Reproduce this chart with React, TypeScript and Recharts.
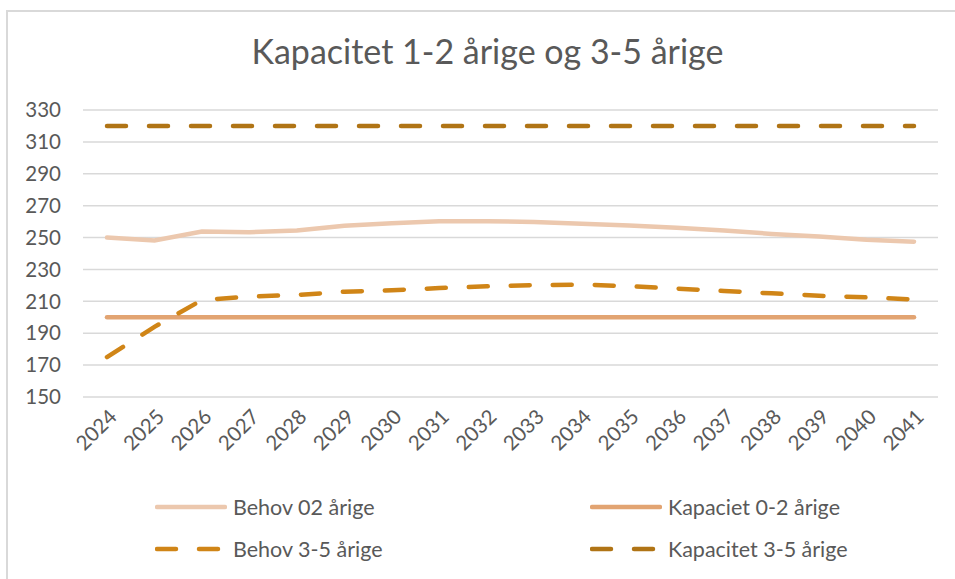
import React from "react";
import { CartesianGrid, Line, LineChart, XAxis, YAxis } from "recharts";

const years = [
  "2024", "2025", "2026", "2027", "2028", "2029", "2030", "2031", "2032",
  "2033", "2034", "2035", "2036", "2037", "2038", "2039", "2040", "2041",
];

const behov02 = [250, 248.2, 253.8, 253.4, 254.4, 257.4, 259, 260.3, 260.3, 259.7, 258.6, 257.6, 256.1, 254.4, 252.3, 250.7, 248.6, 247.4];
const kapaciet02 = [200, 200, 200, 200, 200, 200, 200, 200, 200, 200, 200, 200, 200, 200, 200, 200, 200, 200];
const behov35 = [175, 194, 210.8, 213, 214, 216, 217, 218.3, 219.4, 220.2, 220.5, 219.5, 218, 216.5, 215, 213.5, 212.5, 211.2];
const kapacitet35 = [320, 320, 320, 320, 320, 320, 320, 320, 320, 320, 320, 320, 320, 320, 320, 320, 320, 320];

const yTicks = [150, 170, 190, 210, 230, 250, 270, 290, 310, 330];

const series = [
  { key: "behov02", name: "Behov 02 årige", color: "#ECC8AE", dash: undefined as string | undefined },
  { key: "kapaciet02", name: "Kapaciet 0-2 årige", color: "#E2A472", dash: undefined },
  { key: "behov35", name: "Behov 3-5 årige", color: "#D08517", dash: "19 23" },
  { key: "kapacitet35", name: "Kapacitet 3-5 årige", color: "#B07415", dash: "19 23" },
];

const data = years.map((year, i) => ({
  year,
  behov02: behov02[i],
  kapaciet02: kapaciet02[i],
  behov35: behov35[i],
  kapacitet35: kapacitet35[i],
}));

const FONT = "Lato, 'Open Sans', sans-serif";
const TEXT = "#595959";

const YearTick = ({ x, y, payload }: any) => (
  <text
    x={x + 6}
    y={y + 8}
    transform={`rotate(-45, ${x + 6}, ${y + 8})`}
    textAnchor="end"
    dy="0.35em"
    fill={TEXT}
    fontSize={20.5}
    fontFamily={FONT}
  >
    {payload.value}
  </text>
);

// legend positions follow the 2x2 layout of the original
const legendPos = [
  { left: 155, top: 507 },
  { left: 590, top: 507 },
  { left: 155, top: 549 },
  { left: 590, top: 549 },
];

export default function App() {
  return (
    <div style={{ position: "absolute", left: 0, top: 0, width: 955, height: 579, background: "#fff", overflow: "hidden" }}>
      <style>{"body{margin:0}"}</style>
      <div
        style={{
          position: "absolute",
          left: 6,
          top: 10,
          width: 960,
          height: 580,
          borderLeft: "2px solid #D9D9D9",
          borderTop: "2px solid #D9D9D9",
        }}
      />
      <div
        style={{
          position: "absolute",
          left: 0,
          width: 975,
          top: 30,
          textAlign: "center",
          fontFamily: FONT,
          fontSize: 34,
          color: TEXT,
        }}
      >
        Kapacitet 1-2 årige og 3-5 årige
      </div>
      <LineChart
        width={955}
        height={579}
        data={data}
        margin={{ top: 110, right: 17, bottom: 0, left: 0 }}
        style={{ position: "absolute", left: 0, top: 0 }}
      >
        <CartesianGrid vertical={false} stroke="#D9D9D9" strokeWidth={1.5} />
        <XAxis
          dataKey="year"
          height={182}
          interval={0}
          axisLine={false}
          tickLine={false}
          padding={{ left: 24, right: 24 }}
          tick={<YearTick />}
        />
        <YAxis
          domain={[150, 330]}
          ticks={yTicks}
          width={83}
          axisLine={false}
          tickLine={false}
          tickSize={0}
          tickMargin={22}
          tick={{ fill: TEXT, fontSize: 20.5, fontFamily: FONT }}
        />
        {series.map((s) => (
          <Line
            key={s.key}
            type="linear"
            dataKey={s.key}
            name={s.name}
            stroke={s.color}
            strokeWidth={4.5}
            strokeDasharray={s.dash}
            strokeLinecap="round"
            dot={false}
            activeDot={false}
            isAnimationActive={false}
          />
        ))}
      </LineChart>
      {series.map((s, i) => (
        <div
          key={s.key}
          style={{
            position: "absolute",
            left: legendPos[i].left,
            top: legendPos[i].top - 13,
            height: 26,
            display: "flex",
            alignItems: "center",
            fontFamily: FONT,
            fontSize: 21.5,
            color: TEXT,
            whiteSpace: "nowrap",
          }}
        >
          <svg width={72} height={10} style={{ marginRight: 6 }}>
            <line
              x1={2}
              y1={5}
              x2={70}
              y2={5}
              stroke={s.color}
              strokeWidth={4.5}
              strokeLinecap="round"
              strokeDasharray={s.dash ? "19 23" : undefined}
            />
          </svg>
          {s.name}
        </div>
      ))}
    </div>
  );
}
